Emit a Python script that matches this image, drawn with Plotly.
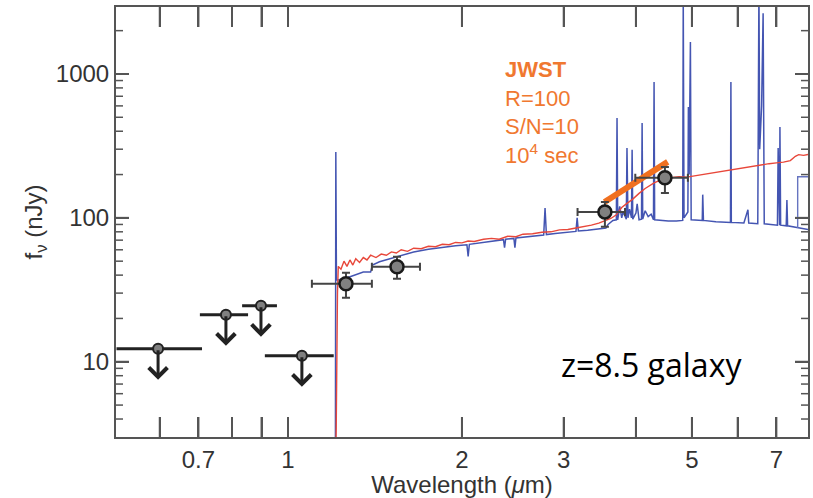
import numpy as np
import plotly.graph_objects as go

# ---------------- data ----------------
# photometric upper limits (wavelength um, flux nJy, band edges)
lim_wl = [0.596, 0.781, 0.898, 1.057]
lim_f = [12.3, 21.2, 24.5, 11.0]
lim_wlo = [0.505, 0.704, 0.833, 0.912]
lim_whi = [0.71, 0.853, 0.957, 1.20]
lim_arrow_factor = 0.61   # arrow tip = limit * factor

# detections
det_wl = [1.26, 1.544, 3.535, 4.49]
det_f = [34.8, 45.7, 110, 190]
det_wlo = [1.10, 1.397, 3.17, 3.99]
det_whi = [1.397, 1.692, 3.83, 4.92]
det_flo = [27.8, 37.7, 86.6, 149]
det_fhi = [41.5, 53.6, 129, 226]

# JWST spectrum segment
jwst_wl = [3.53, 4.54]
jwst_f = [129, 245]

# blue model spectrum (continuum + emission lines)
blue_pts = [
    (1.208, 2), (1.210, 287), (1.213, 37), (1.22, 37), (1.27, 38.5), (1.31, 40),
    (1.35, 42), (1.39, 42), (1.40, 47), (1.44, 49.5), (1.50, 52), (1.56, 54.5),
    (1.65, 58), (1.75, 60.5), (1.85, 62.5), (1.95, 64), (2.04, 65), (2.05, 54),
    (2.06, 65.5), (2.15, 67), (2.25, 69), (2.36, 70.5), (2.37, 62), (2.38, 71),
    (2.46, 72), (2.47, 62), (2.48, 72.5), (2.60, 74), (2.70, 75.5), (2.77, 76),
    (2.785, 117), (2.80, 76.5), (2.90, 78), (3.00, 79), (3.10, 80), (3.15, 80.5),
    (3.165, 100), (3.18, 81), (3.30, 82), (3.45, 84), (3.55, 85), (3.58, 90),
    (3.65, 96), (3.70, 97), (3.71, 494), (3.72, 97), (3.75, 120), (3.78, 100),
    (3.80, 110), (3.85, 98), (3.86, 306), (3.875, 100), (3.90, 115), (3.93, 100),
    (3.94, 297), (3.95, 98), (4.00, 108), (4.02, 125), (4.05, 97), (4.09, 98),
    (4.10, 457), (4.11, 98), (4.15, 112), (4.20, 102), (4.25, 106), (4.29, 97),
    (4.30, 879), (4.31, 97), (4.40, 96), (4.55, 95), (4.70, 95), (4.82, 96),
    (4.83, 3500), (4.845, 100), (4.92, 110), (4.93, 589), (4.945, 200), (4.97, 1667),
    (4.985, 97), (5.10, 96), (5.21, 96), (5.22, 145), (5.235, 96), (5.50, 94),
    (5.83, 93), (5.84, 879), (5.85, 93), (6.15, 92), (6.25, 114), (6.27, 92),
    (6.50, 91), (6.53, 4000), (6.55, 300), (6.60, 600), (6.64, 2640), (6.67, 91),
    (6.90, 90), (7.03, 89), (7.05, 306), (7.07, 89), (7.09, 89), (7.10, 428),
    (7.12, 89), (7.28, 88), (7.30, 133), (7.32, 88), (7.60, 86), (7.95, 83),
]
blue_box_wl = [7.62, 7.62, 8.2]
blue_box_f = [85, 193, 193]

# red model spectrum (continuum)
red_pts = [
    (1.205, 1), (1.212, 3.5), (1.218, 30), (1.222, 46), (1.235, 44), (1.25, 50),
    (1.265, 46), (1.28, 51), (1.295, 47), (1.31, 52), (1.33, 49), (1.35, 53),
    (1.37, 51), (1.39, 55), (1.42, 53), (1.45, 56), (1.48, 55), (1.51, 58),
    (1.54, 57), (1.57, 60), (1.61, 58.5), (1.65, 61.5), (1.70, 61), (1.75, 63.5),
    (1.80, 63), (1.85, 65.5), (1.90, 65), (1.95, 67.5), (2.00, 67), (2.05, 69),
    (2.10, 68.5), (2.18, 71), (2.25, 72), (2.32, 71), (2.40, 74.5), (2.48, 74),
    (2.55, 77), (2.65, 77.5), (2.75, 79.5), (2.85, 80), (2.95, 82.5), (3.05, 83),
    (3.15, 85), (3.25, 86.5), (3.35, 89), (3.45, 92), (3.55, 96), (3.62, 99),
    (3.70, 105), (3.78, 118), (3.85, 125), (3.95, 135), (4.05, 148), (4.15, 160),
    (4.30, 175), (4.45, 186), (4.60, 190), (4.75, 193), (4.90, 192), (5.05, 196),
    (5.20, 198), (5.40, 205), (5.60, 210), (5.80, 214), (6.00, 218), (6.20, 224),
    (6.40, 230), (6.60, 235), (6.80, 238), (7.00, 241), (7.20, 244), (7.40, 250),
    (7.55, 268), (7.65, 275), (7.80, 272), (7.95, 276),
]

x_ticks = [0.6, 0.7, 0.8, 0.9, 1, 2, 3, 4, 5, 6, 7]
x_ticktext = [" ", "0.7", " ", " ", "1", "2", "3", " ", "5", " ", "7"]
y_ticks = [10, 100, 1000]
y_minor = [4, 5, 6, 7, 8, 9, 20, 30, 40, 50, 60, 70, 80, 90,
           200, 300, 400, 500, 600, 700, 800, 900, 2000]
x_range = [0.504, 7.94]
y_range = [3.0, 2920]

# ---------------- figure ----------------
AX = "#555555"
TXT = "#333333"
FONT = "Liberation Sans, Arial, sans-serif"
W, H = 813, 498
ML, MR, MT, MB = 116, 5, 7, 61
PW, PH = W - ML - MR, H - MT - MB
x_dec = PW / np.log10(x_range[1] / x_range[0])   # pixels per decade
y_dec = PH / np.log10(y_range[1] / y_range[0])

fig = go.Figure()

# ---- tick marks on all four sides (as marker glyphs on the log scales) ----
def xtick_marks(vals, length_px):
    k = 10 ** (length_px / 2 / y_dec)
    xs = list(vals) + list(vals)
    ys = [y_range[0] * k] * len(vals) + [y_range[1] / k] * len(vals)
    return xs, ys

def ytick_marks(vals, length_px):
    k = 10 ** (length_px / 2 / x_dec)
    xs = [x_range[0] * k] * len(vals) + [x_range[1] / k] * len(vals)
    ys = list(vals) + list(vals)
    return xs, ys

for (sx, sy), sym, ln, lw in ((xtick_marks(x_ticks, 20), "line-ns", 20, 2),
                              (ytick_marks(y_ticks, 13), "line-ew", 13, 2),
                              (ytick_marks(y_minor, 7), "line-ew", 7, 1.5)):
    fig.add_trace(go.Scatter(
        x=sx, y=sy, mode="markers", hoverinfo="skip", cliponaxis=False,
        marker=dict(symbol=sym, size=ln / 1.4, color=AX,
                    line=dict(color=AX, width=lw))))

bw, bf = zip(*blue_pts)
fig.add_trace(go.Scatter(x=bw, y=bf, mode="lines",
                         line=dict(color="#4455B2", width=1.5)))
fig.add_trace(go.Scatter(x=blue_box_wl, y=blue_box_f, mode="lines",
                         line=dict(color="#6674C0", width=1.4)))
rw, rf = zip(*red_pts)
fig.add_trace(go.Scatter(x=rw, y=rf, mode="lines",
                         line=dict(color="#E8473A", width=1.4)))

fig.add_trace(go.Scatter(x=jwst_wl, y=jwst_f, mode="lines",
                         line=dict(color="#F07020", width=6)))

fig.add_trace(go.Scatter(
    x=lim_wl, y=lim_f, mode="markers",
    marker=dict(size=10, color="#808080", line=dict(color="#222222", width=2)),
    error_x=dict(type="data", symmetric=False,
                 array=[h - w for h, w in zip(lim_whi, lim_wl)],
                 arrayminus=[w - l for w, l in zip(lim_wl, lim_wlo)],
                 color="#222222", thickness=3, width=0)))

fig.add_trace(go.Scatter(
    x=det_wl, y=det_f, mode="markers",
    marker=dict(size=13, color="#808080", line=dict(color="#1a1a1a", width=2.5)),
    error_x=dict(type="data", symmetric=False,
                 array=[h - w for h, w in zip(det_whi, det_wl)],
                 arrayminus=[w - l for w, l in zip(det_wl, det_wlo)],
                 color="#444444", thickness=2, width=4),
    error_y=dict(type="data", symmetric=False,
                 array=[h - f for h, f in zip(det_fhi, det_f)],
                 arrayminus=[f - l for f, l in zip(det_f, det_flo)],
                 color="#444444", thickness=2, width=4)))

annotations = []
for w, f in zip(lim_wl, lim_f):
    annotations.append(dict(
        x=np.log10(w), y=np.log10(f * lim_arrow_factor), xref="x", yref="y",
        ax=np.log10(w), ay=np.log10(f), axref="x", ayref="y",
        text="", showarrow=True, arrowhead=4, arrowsize=1.2,
        arrowwidth=3, arrowcolor="#222222"))

annotations.append(dict(
    x=(503 - ML) / PW, y=(H - MB - 55) / PH, xref="paper", yref="paper",
    xanchor="left", yanchor="top", align="left", showarrow=False,
    text="<b>JWST</b><br>R=100<br>S/N=10<br>10<sup>4</sup> sec",
    font=dict(family=FONT, size=22, color="#F07830")))

annotations.append(dict(
    x=(559 - ML) / PW, y=(H - MB - 364) / PH, xref="paper", yref="paper",
    xanchor="left", yanchor="middle", showarrow=False,
    text="z=8.5 galaxy",
    font=dict(family="Open Sans, Noto Sans, sans-serif", size=32, color="#000000")))

fig.update_layout(
    width=W, height=H,
    margin=dict(l=ML, r=MR, t=MT, b=MB),
    paper_bgcolor="white", plot_bgcolor="white",
    showlegend=False,
    annotations=annotations,
    xaxis=dict(
        type="log", range=[np.log10(x_range[0]), np.log10(x_range[1])],
        tickmode="array", tickvals=x_ticks, ticktext=x_ticktext,
        ticks="inside", ticklen=20, tickwidth=2, tickcolor=AX,
        showline=True, linecolor=AX, linewidth=2, mirror="allticks",
        showgrid=False, zeroline=False, automargin=False,
        tickfont=dict(family=FONT, size=24, color=TXT),
        title=dict(text="Wavelength (<i>μ</i>m)", standoff=4,
                   font=dict(family=FONT, size=24, color=TXT)),
    ),
    yaxis=dict(
        type="log", range=[np.log10(y_range[0]), np.log10(y_range[1])],
        tickmode="array", tickvals=y_ticks, ticktext=[str(v) for v in y_ticks],
        ticks="inside", ticklen=13, tickwidth=2, tickcolor=AX,
        showline=True, linecolor=AX, linewidth=2, mirror="allticks",
        showgrid=False, zeroline=False, automargin=False,
        tickfont=dict(family=FONT, size=24, color=TXT),
        title=dict(text="f<sub>ν</sub> (nJy)", standoff=6,
                   font=dict(family=FONT, size=24, color=TXT)),
    ),
)

fig.write_html("out.html")
